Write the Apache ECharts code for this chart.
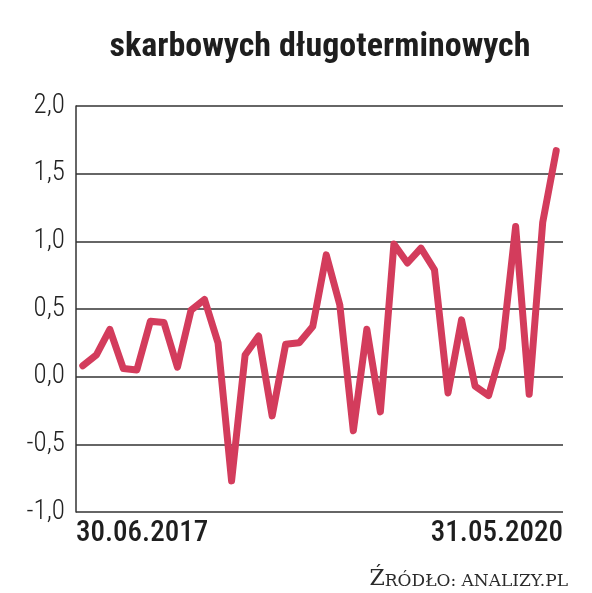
<!DOCTYPE html>
<html><head><meta charset="utf-8">
<script src="https://cdn.jsdelivr.net/npm/echarts@6/dist/echarts.min.js"></script>
<style>html,body{margin:0;padding:0;background:#fff;}#c{width:592px;height:593px;}</style>
</head><body><div id="c"></div>
<script>
var titleText = 'skarbowych długoterminowych';
var sourceText = ['Ź', 'RÓDŁO: ANALIZY.PL'];
var categories = [
 '2017-06','2017-07','2017-08','2017-09','2017-10','2017-11','2017-12',
 '2018-01','2018-02','2018-03','2018-04','2018-05','2018-06','2018-07','2018-08','2018-09','2018-10','2018-11','2018-12',
 '2019-01','2019-02','2019-03','2019-04','2019-05','2019-06','2019-07','2019-08','2019-09','2019-10','2019-11','2019-12',
 '2020-01','2020-02','2020-03','2020-04','2020-05'];
var values = [0.08,0.16,0.35,0.06,0.05,0.41,0.40,0.07,0.49,0.57,0.25,-0.77,0.16,0.30,-0.29,0.24,0.25,0.37,
 0.90,0.53,-0.40,0.35,-0.26,0.98,0.84,0.95,0.79,-0.12,0.42,-0.07,-0.14,0.21,1.11,-0.13,1.14,1.67];
var xTickLabels = ['30.06.2017', '31.05.2020'];
var yTicks = [-1.0, -0.5, 0.0, 0.5, 1.0, 1.5, 2.0];

var condensed = '"Roboto Condensed","Liberation Sans Narrow","DejaVu Sans Condensed",sans-serif';
var chart = echarts.init(document.getElementById('c'), null, {renderer:'canvas'});
chart.setOption({
  animation: false,
  backgroundColor: '#fff',
  title: [{
    text: titleText, left: 315, top: 25, textAlign: 'center',
    textStyle: {fontFamily: condensed, fontWeight: 'bold', fontSize: 34, color: '#1e1e1e'}
  }, {
    text: '{a|' + sourceText[0] + '}{b|' + sourceText[1] + '}', right: 19, top: 563,
    textStyle: {fontWeight: 'normal', rich: {
      a: {fontFamily: '"DejaVu Serif","Liberation Serif",serif', fontWeight: 'normal', fontSize: 22, color: '#2a2a2a', verticalAlign: 'bottom'},
      b: {fontFamily: '"DejaVu Serif","Liberation Serif",serif', fontWeight: 'normal', fontSize: 17, color: '#2a2a2a', verticalAlign: 'bottom'}
    }}
  }],
  grid: {left: 76, right: 29, top: 106, bottom: 81, containLabel: false},
  xAxis: [{
    type: 'category', data: categories, boundaryGap: true,
    axisLine: {show: false}, axisTick: {show: false}, axisLabel: {show: false}
  }, {
    type: 'value', min: 0, max: 1, interval: 1, position: 'bottom',
    axisLine: {show: false}, axisTick: {show: false}, splitLine: {show: false},
    axisLabel: {
      margin: 7, alignMinLabel: 'left', alignMaxLabel: 'right',
      formatter: function(v){ return v === 0 ? xTickLabels[0] : xTickLabels[1]; },
      fontFamily: condensed, fontSize: 29, fontWeight: 500, color: '#1e1e1e'
    }
  }],
  yAxis: {
    type: 'value', min: yTicks[0], max: yTicks[yTicks.length-1], interval: 0.5,
    axisLine: {show: true, lineStyle: {color: '#333', width: 1.5}},
    axisTick: {show: false},
    splitLine: {show: true, lineStyle: {color: '#333', width: 1.5}},
    axisLabel: {
      margin: 11,
      formatter: function(v){ return v.toFixed(1).replace('.', ','); },
      fontFamily: '"Roboto Condensed","Roboto",sans-serif', fontWeight: 300,
      fontSize: 27, color: '#222'
    }
  },
  series: [{
    type: 'line', data: values, xAxisIndex: 0, showSymbol: false,
    lineStyle: {color: '#d33c5c', width: 7, join: 'round', cap: 'round'}
  }]
});
</script></body></html>
